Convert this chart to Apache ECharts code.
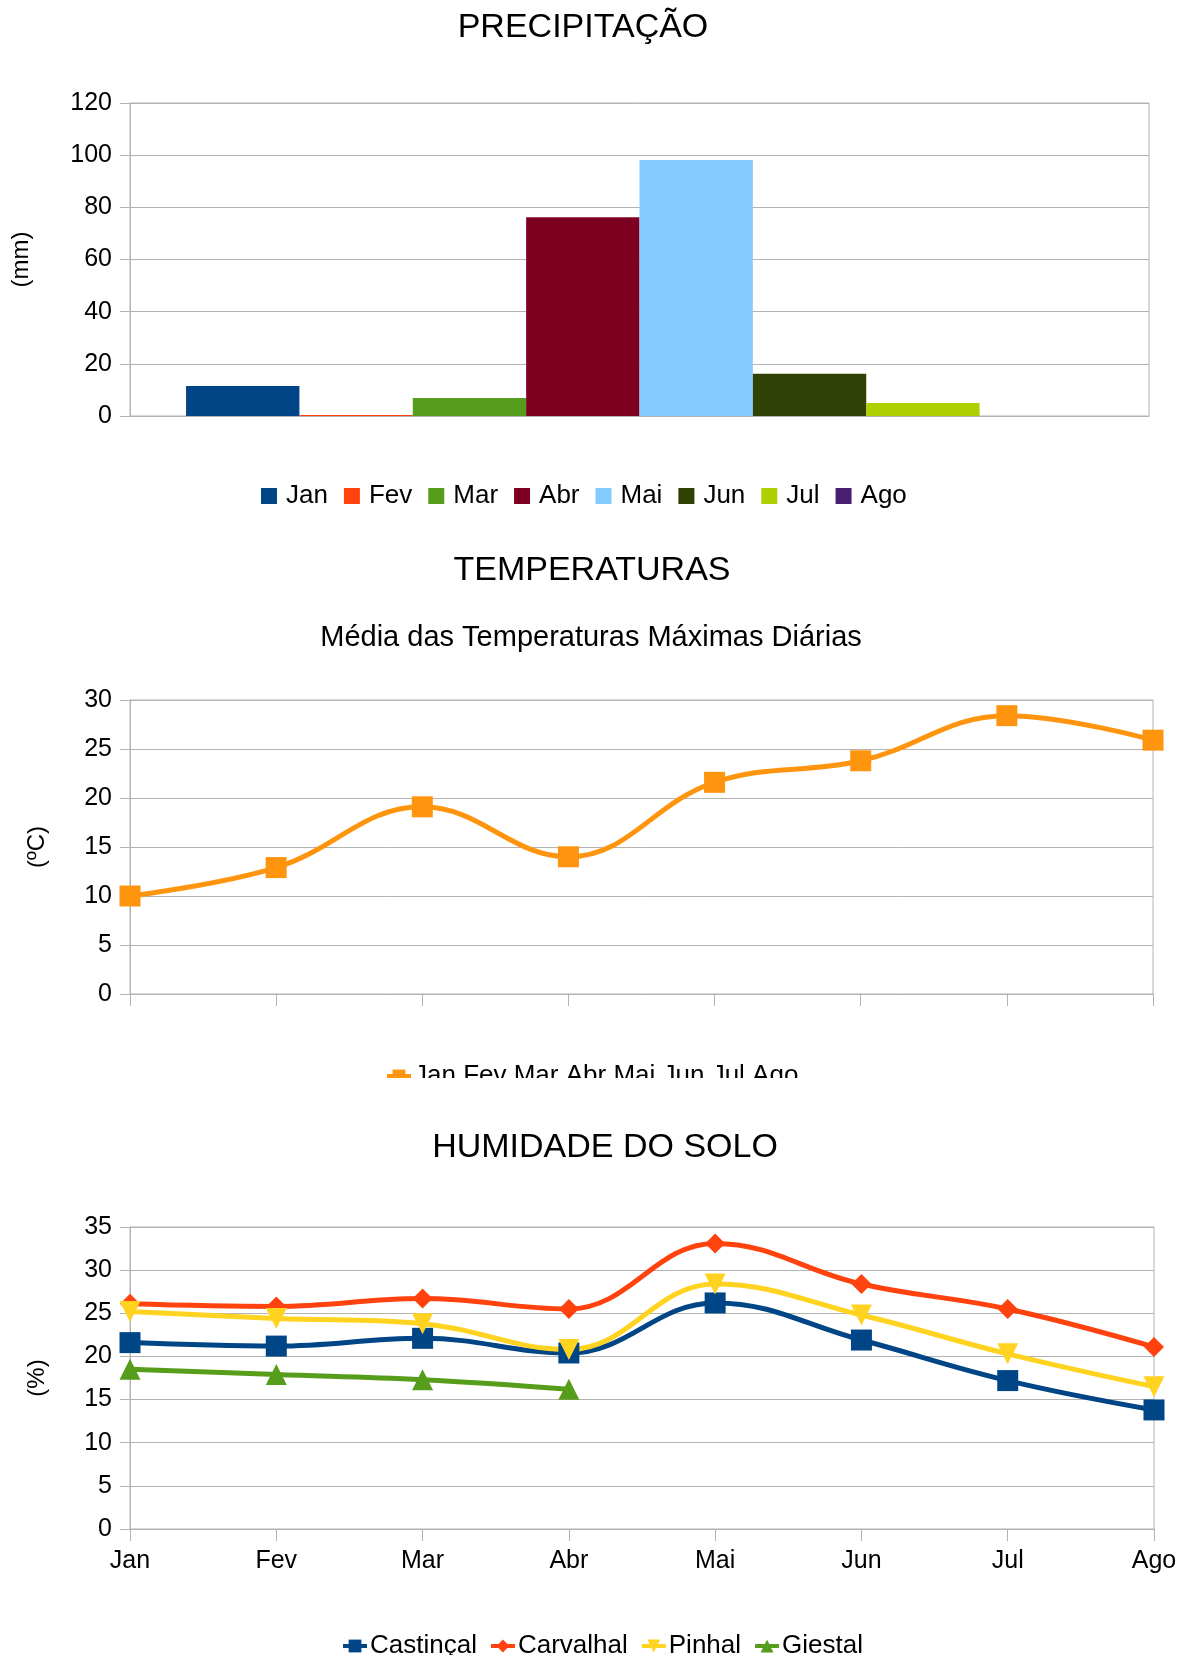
<!doctype html>
<meta charset="utf-8">
<title>Precipitação, Temperaturas, Humidade do Solo</title>
<style>
	html, body { margin: 0; padding: 0; background: #fff; }
	.charts { position: absolute; left: 0; width: 1188px; overflow: hidden; }
	#precip { top: 0; height: 520px; }
	#temp { top: 520px; height: 558px; }
	#humid { top: 1078px; height: 577px; }
</style>
<div id="precip" class="charts"></div>
<div id="temp" class="charts"></div>
<div id="humid" class="charts"></div>
<script src="https://cdn.jsdelivr.net/npm/echarts@6/dist/echarts.min.js"></script>
<script>
	// dados
	const months = ["Jan", "Fev", "Mar", "Abr", "Mai", "Jun", "Jul", "Ago"];
	const precipitation = [11.5, 0.4, 6.9, 76.2, 98.1, 16.2, 5.0, 0];
	const monthColors = ["#004586", "#ff420e", "#579d1c", "#7e0021", "#83caff", "#314004", "#aecf00", "#4b1f6f"];
	const tempMax = [10.0, 12.9, 19.1, 14.0, 21.6, 23.8, 28.4, 25.9];
	const castincal = [21.6, 21.2, 22.1, 20.4, 26.2, 21.9, 17.2, 13.8];
	const carvalhal = [26.1, 25.8, 26.7, 25.5, 33.1, 28.4, 25.5, 21.1];
	const pinhal = [25.2, 24.4, 23.8, 20.8, 28.4, 24.8, 20.3, 16.5];
	const giestal = [18.5, 17.9, 17.3, 16.2, null, null, null, null];

	const FONT = "'Liberation Sans', Arial, sans-serif";
	const GRAY = "#b3b3b3";

	function titleText(x, y, text, size) {
		return {
			type: 'text', x: x, y: y,
			style: { text: text, font: size + "px " + FONT, fill: "#000", textAlign: 'center', textVerticalAlign: 'middle' }
		};
	}
	function valueAxis(max, interval, name, gap) {
		return {
			type: 'value', min: 0, max: max, interval: interval,
			name: name, nameLocation: 'middle', nameGap: gap, nameRotate: 90,
			nameTextStyle: { fontFamily: FONT, fontSize: 24, color: "#000" },
			axisLine: { show: true, lineStyle: { color: GRAY } },
			axisTick: { show: true, length: 10, lineStyle: { color: GRAY } },
			axisLabel: { fontFamily: FONT, fontSize: 25, color: "#000", margin: 18 },
			splitLine: { lineStyle: { color: GRAY } }
		};
	}

	// PRECIPITAÇÃO
	var precipChart = echarts.init(document.getElementById('precip'));
	precipChart.setOption({
		animation: false,
		graphic: [titleText(583, 28, "PRECIPITAÇÃO", 34)],
		grid: { left: 130, right: 39, top: 103, bottom: 104, show: true, borderColor: GRAY, borderWidth: 1 },
		legend: {
			left: 256, top: 478, icon: 'rect', itemWidth: 16, itemHeight: 16, itemGap: 16,
			textStyle: { fontFamily: FONT, fontSize: 26, color: "#000", padding: [0, 0, 0, 4] },
			data: months
		},
		xAxis: {
			type: 'category', data: [''],
			axisLine: { lineStyle: { color: GRAY } },
			axisTick: { length: 12, lineStyle: { color: GRAY } },
			axisLabel: { show: false }
		},
		yAxis: valueAxis(120, 20, "(mm)", 97),
		series: months.map(function (m, i) {
			return {
				type: 'bar', name: m, data: [precipitation[i]],
				itemStyle: { color: monthColors[i] },
				barGap: '0%', barCategoryGap: '11%'
			};
		})
	});

	// TEMPERATURAS
	var tempChart = echarts.init(document.getElementById('temp'));
	tempChart.setOption({
		animation: false,
		graphic: [
			titleText(592, 51, "TEMPERATURAS", 34),
			titleText(591, 118, "Média das Temperaturas Máximas Diárias", 29)
		],
		grid: { left: 130, right: 35, top: 180, bottom: 84, show: true, borderColor: GRAY, borderWidth: 1 },
		legend: {
			left: 380, top: 538, itemWidth: 24, itemHeight: 16, itemGap: 8,
			lineStyle: { width: 4 },
			textStyle: { fontFamily: FONT, fontSize: 26, color: "#000", padding: [0, 0, 0, -2] }
		},
		xAxis: {
			type: 'category', data: months, boundaryGap: false,
			axisLine: { lineStyle: { color: GRAY } },
			axisTick: { length: 12, lineStyle: { color: GRAY } },
			axisLabel: { show: false }
		},
		yAxis: valueAxis(30, 5, "(ºC)", 81),
		series: [{
			type: 'line', name: months.join(' '), data: tempMax, smooth: 0.4,
			symbol: 'rect', symbolSize: 21,
			lineStyle: { width: 5, color: "#ff950e" },
			itemStyle: { color: "#ff950e" }
		}]
	});

	// HUMIDADE DO SOLO
	const humidSeries = [
		{ name: "Castinçal", data: castincal, color: "#004586", symbol: 'rect', size: 21, rotate: 0 },
		{ name: "Carvalhal", data: carvalhal, color: "#ff420e", symbol: 'diamond', size: 20, rotate: 0 },
		{ name: "Pinhal", data: pinhal, color: "#ffd320", symbol: 'triangle', size: 21, rotate: 180 },
		{ name: "Giestal", data: giestal, color: "#579d1c", symbol: 'triangle', size: 21, rotate: 0 }
	];
	var humidChart = echarts.init(document.getElementById('humid'));
	humidChart.setOption({
		animation: false,
		graphic: [titleText(605, 70, "HUMIDADE DO SOLO", 34)],
		grid: { left: 130, right: 34, top: 149, bottom: 126, show: true, borderColor: GRAY, borderWidth: 1 },
		legend: {
			left: 336, top: 550, itemWidth: 24, itemHeight: 16, itemGap: 12,
			lineStyle: { width: 4 },
			textStyle: { fontFamily: FONT, fontSize: 26, color: "#000", padding: [0, 0, 0, -2] }
		},
		xAxis: {
			type: 'category', data: months, boundaryGap: false,
			axisLine: { lineStyle: { color: GRAY } },
			axisTick: { length: 12, lineStyle: { color: GRAY } },
			axisLabel: { fontFamily: FONT, fontSize: 25, color: "#000", margin: 20 }
		},
		yAxis: valueAxis(35, 5, "(%)", 81),
		series: humidSeries.map(function (s) {
			return {
				type: 'line', name: s.name, data: s.data, smooth: 0.4,
				symbol: s.symbol, symbolSize: s.size, symbolRotate: s.rotate,
				lineStyle: { width: 5, color: s.color },
				itemStyle: { color: s.color }
			};
		})
	});
</script>
